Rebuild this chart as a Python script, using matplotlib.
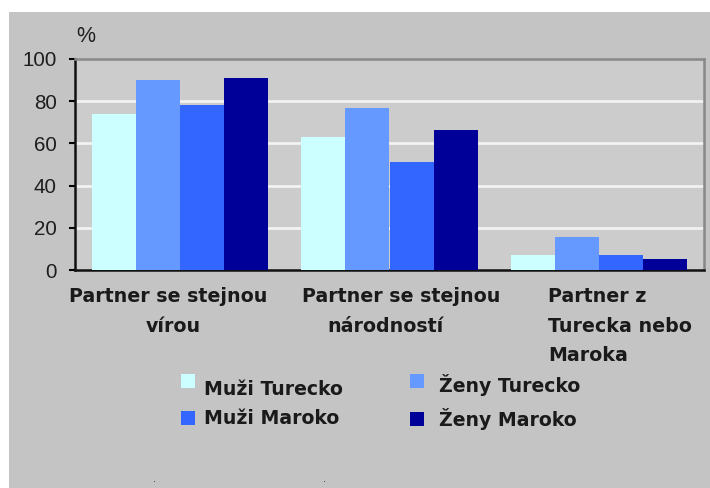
import matplotlib
matplotlib.use("Agg")
import matplotlib.pyplot as plt
import numpy as np
from matplotlib.patches import Rectangle

categories = ["Partner se stejnou\nvírou", "Partner se stejnou\nnárodností", "Partner z\nTurecka nebo\nMaroka"]
series_names = ["Muži Turecko", "Ženy Turecko", "Muži Maroko", "Ženy Maroko"]
muzi_turecko = [74, 63, 7]
zeny_turecko = [90, 77, 15.5]
muzi_maroko = [78, 51, 7]
zeny_maroko = [91, 66.5, 5]
yticks = [0, 20, 40, 60, 80, 100]
colors = ["#ccffff", "#6699ff", "#3366ff", "#000099"]

W, H = 710, 488
fig = plt.figure(figsize=(W / 100, H / 100), dpi=100)
fig.patch.set_facecolor("white")
bg = fig.add_axes([9 / W, 0, 1 - 9 / W, 1 - 12 / H])
bg.set_axis_off()
bg.add_patch(Rectangle((0, 0), 1, 1, transform=bg.transAxes, facecolor="#c4c4c4", edgecolor="none"))
bg.set_zorder(0)

ax = fig.add_axes([75 / W, 1 - 270 / H, (704 - 75) / W, (270 - 59) / H])
ax.set_zorder(2)
ax.set_facecolor("#cccccc")

x = np.arange(len(categories))
bw = 0.21
all_series = [muzi_turecko, zeny_turecko, muzi_maroko, zeny_maroko]
for i, (vals, c, name) in enumerate(zip(all_series, colors, series_names)):
    ax.bar(x + (i - 1.5) * bw, vals, width=bw, color=c, label=name, zorder=3)

ax.set_xlim(-0.5, 2.5)
ax.set_ylim(0, 100)
ax.set_yticks(yticks)
ax.set_yticklabels([str(t) for t in yticks], fontfamily="Liberation Sans", fontsize=14.8, color="#1e1e1e")
ax.tick_params(axis="y", length=4.5, width=1.5, pad=8.5, direction="out")
ax.set_xticks([])
for t in yticks[1:-1]:
    ax.axhline(t, color="#f2f2f2", lw=2, zorder=1)
for s in ["left", "bottom"]:
    ax.spines[s].set_color("#111111")
    ax.spines[s].set_linewidth(1.8)
for s in ["top", "right"]:
    ax.spines[s].set_color("#888888")
    ax.spines[s].set_linewidth(1.8)

fig.text(86 / W, 1 - 36 / H, "%", fontfamily="Liberation Sans", fontsize=15.5, ha="center", va="center", color="#1e1e1e")

# category labels (Excel-style layout beneath the axis)
lab_font = dict(fontfamily="DejaVu Sans", fontweight="bold", fontsize=13.7, color="#1a1a1a")
label_x = [[(168, "center"), (173, "center")],
           [(400.7, "center"), (385, "center")],
           [(548, "left"), (548, "left"), (548, "left")]]
baselines = [301.5, 331.5, 361]
for cat, xs in zip(categories, label_x):
    for line, (xp, ha), yb in zip(cat.split("\n"), xs, baselines):
        fig.text(xp / W, 1 - yb / H, line, ha=ha, va="baseline", **lab_font)

# legend, laid out as in the reference (2 columns x 2 rows)
leg_cols = [(181, 204), (410, 439)]
leg_rows = [[(374, 395), (411, 424.5)], [(374, 392), (412, 425.5)]]
leg_order = [[0, 2], [1, 3]]  # column -> series indices
for ci, (sq_x, tx_x) in enumerate(leg_cols):
    for ri, (sq_y, tb) in enumerate(leg_rows[ci]):
        k = leg_order[ci][ri]
        fig.patches.append(Rectangle((sq_x / W, 1 - (sq_y + 14) / H), 14 / W, 14 / H,
                                     transform=fig.transFigure, facecolor=colors[k],
                                     edgecolor="none", zorder=5))
        fig.text(tx_x / W, 1 - tb / H, series_names[k], fontfamily="DejaVu Sans", fontweight="bold",
                 fontsize=13.6, color="#1a1a1a", ha="left", va="baseline", zorder=5)

for xd in (154, 325):
    fig.text(xd / W, 1 - 479 / H, ".", fontsize=7, ha="center", va="center", color="#333333")

fig.savefig("out.png", dpi=100, facecolor=fig.get_facecolor())
